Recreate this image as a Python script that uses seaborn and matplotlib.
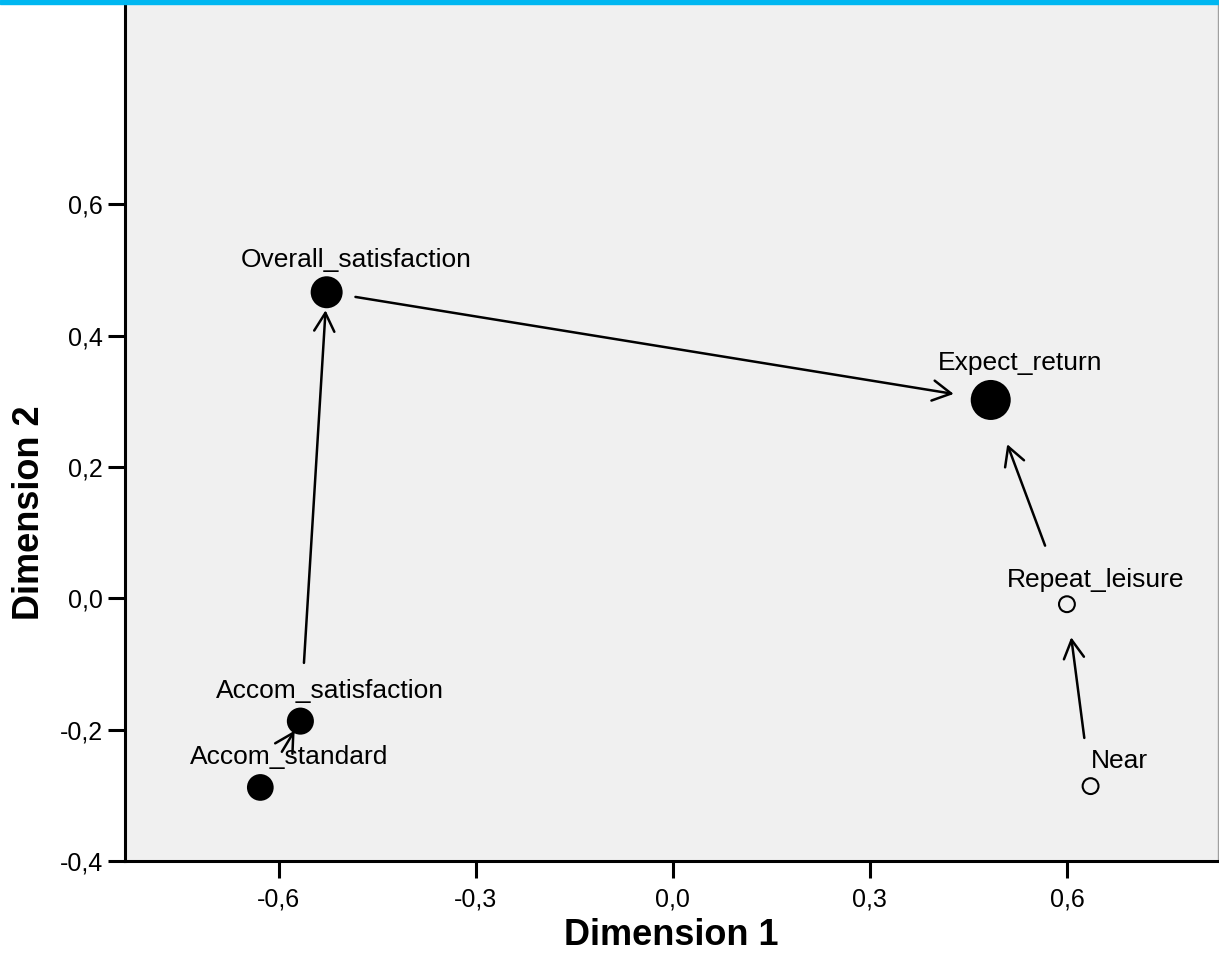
import numpy as np
import pandas as pd
import matplotlib
matplotlib.use("Agg")
import matplotlib.pyplot as plt
import matplotlib.ticker as ticker
from matplotlib.patches import Rectangle
import seaborn as sns

# nodes of the network plot
nodes = ["Overall_satisfaction", "Expect_return", "Accom_satisfaction",
         "Accom_standard", "Repeat_leisure", "Near"]
dim1 = [-0.527, 0.484, -0.567, -0.628, 0.600, 0.636]
dim2 = [0.466, 0.302, -0.187, -0.288, -0.009, -0.286]
importance = [530, 830, 380, 370, 130, 130]   # marker area
filled = [True, True, True, True, False, False]

# directed links (source -> target)
edge_src = ["Overall_satisfaction", "Accom_satisfaction", "Accom_standard",
            "Repeat_leisure", "Near"]
edge_dst = ["Expect_return", "Overall_satisfaction", "Accom_satisfaction",
            "Expect_return", "Repeat_leisure"]
# gap between arrow ends and nodes (points)
gap_src = [21, 42, 30, 45, 35]
gap_dst = [27, 13, 8, 34, 24]

xticks = [-0.6, -0.3, 0.0, 0.3, 0.6]
yticks = [-0.4, -0.2, 0.0, 0.2, 0.4, 0.6]

df = pd.DataFrame({"node": nodes, "x": dim1, "y": dim2,
                   "imp": importance, "filled": filled})
pos = df.set_index("node")

sns.set_theme(style="ticks")
plt.rcParams['font.family'] = ['Liberation Sans', 'DejaVu Sans']

fig = plt.figure(figsize=(12.19, 9.61), dpi=100)
ax = fig.add_axes([125 / 1219, 100 / 961, 1093 / 1219, 861 / 961])
ax.set_facecolor("#f0f0f0")

sns.scatterplot(data=df[df.filled], x="x", y="y", size="imp",
                sizes=(df.imp[df.filled].min(), df.imp[df.filled].max()),
                color="black", edgecolor="none", legend=False, ax=ax, zorder=3)
sns.scatterplot(data=df[~df.filled], x="x", y="y", s=130,
                facecolor="none", edgecolor="black", linewidth=1.5,
                legend=False, ax=ax, zorder=3)

# labels above/right of each node
for _, r in df.iterrows():
    rad = np.sqrt(r.imp) / 2
    ax.annotate(r.node, (r.x, r.y), xytext=(21, rad + 7), textcoords="offset points",
                ha="center", va="baseline", fontsize=19, color="black", zorder=4)

# arrows
for s, d, ga, gb in zip(edge_src, edge_dst, gap_src, gap_dst):
    ax.annotate("", xy=(pos.loc[d, "x"], pos.loc[d, "y"]),
                xytext=(pos.loc[s, "x"], pos.loc[s, "y"]),
                arrowprops=dict(arrowstyle="->,head_length=0.6,head_width=0.33",
                                mutation_scale=22, lw=1.8, color="black",
                                shrinkA=ga, shrinkB=gb), zorder=2)

ax.set_xlim(-0.834, 0.830)
ax.set_ylim(-0.4, 0.911)
ax.set_xticks(xticks)
ax.set_yticks(yticks)
fmt = ticker.FuncFormatter(lambda v, p: f"{v:.1f}".replace(".", ","))
ax.xaxis.set_major_formatter(fmt)
ax.yaxis.set_major_formatter(fmt)
ax.tick_params(axis="both", direction="out", length=12, width=2.2,
               labelsize=18, colors="black")
ax.tick_params(axis="x", pad=7)
ax.tick_params(axis="y", pad=4)

for side in ["left", "bottom"]:
    ax.spines[side].set_linewidth(2.2)
    ax.spines[side].set_color("black")
ax.spines["top"].set_visible(False)
ax.spines["right"].set_color("#a0a0a0")
ax.spines["right"].set_linewidth(1)

ax.set_xlabel("Dimension 1", fontsize=26, fontweight="bold", color="black", va="center")
ax.set_ylabel("Dimension 2", fontsize=26, fontweight="bold", color="black", va="center")
ax.xaxis.set_label_coords(0.5, -0.086)
ax.yaxis.set_label_coords(-0.087, 0.404)

# blue strip at the top
fig.patches.append(Rectangle((0, 1 - 4 / 961), 1, 4 / 961, transform=fig.transFigure,
                             color="#00b7f1", zorder=10))

fig.savefig("out.png", dpi=100)
